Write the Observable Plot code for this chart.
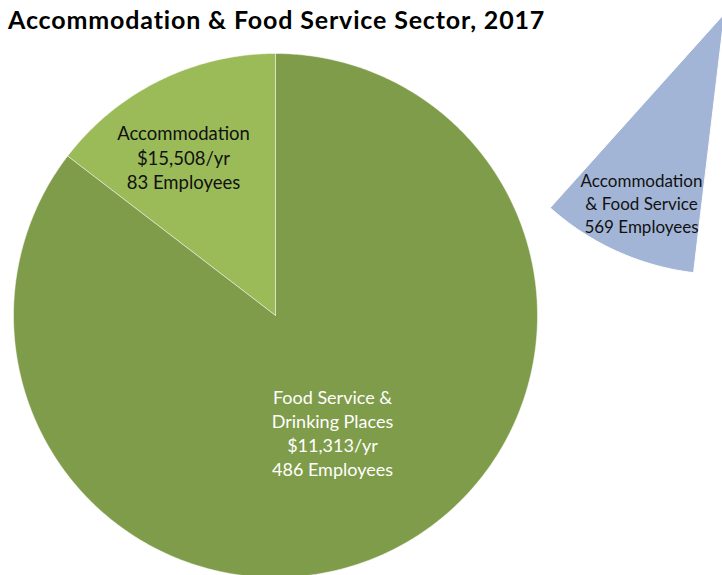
<!DOCTYPE html>
<html><head><meta charset="utf-8">
<script src="https://cdn.jsdelivr.net/npm/d3@7"></script>
<script src="https://cdn.jsdelivr.net/npm/@observablehq/plot@0.6"></script>
<style>
body{margin:0;background:#fff;}
#wrap{position:relative;width:722px;height:575px;overflow:hidden;}
#title{position:absolute;left:8px;top:4px;font-family:Lato;font-weight:bold;font-size:25px;letter-spacing:0.85px;color:#000;white-space:nowrap;z-index:2;}
#chart svg{display:block;}
</style></head><body>
<div id="wrap"><div id="title">Accommodation &amp; Food Service Sector, 2017</div><div id="chart"></div></div>
<script>
// ---- data ----
const categories = ["Accommodation", "Food Service & Drinking Places"];
const employees = [83, 486];
const wages = [15508, 11313];
const sectorName = "Accommodation & Food Service";
const sectorEmployees = 569;
const colors = ["#9BBB59", "#7F9C4A"];
const sectorColor = "#A3B5D6";

// ---- layout ----
const W = 722, H = 575;
const pie1 = {cx: 275, cy: 315, r: 262};
const wedge = {cx: 724, cy: 13, r: 261, a0: 186.8, a1: 221.9}; // degrees, clockwise from top
const deg = Math.PI / 180;

function arcPoints(cx, cy, r, a0, a1, key) {
  const pts = [{x: cx, y: cy, key}];
  const n = Math.max(8, Math.ceil(Math.abs(a1 - a0) / 0.01));
  for (let i = 0; i <= n; i++) {
    const a = a0 + (a1 - a0) * i / n;
    pts.push({x: cx + r * Math.sin(a), y: cy - r * Math.cos(a), key});
  }
  pts.push({x: cx, y: cy, key});
  return pts;
}

const arcs = d3.pie().sort(null).startAngle(0).endAngle(-2 * Math.PI)(employees);
const slices = arcs.map((a, i) => ({
  key: categories[i], color: colors[i],
  pts: arcPoints(pie1.cx, pie1.cy, pie1.r, a.startAngle, a.endAngle, categories[i])
}));
const wedgePts = arcPoints(wedge.cx, wedge.cy, wedge.r, wedge.a0 * deg, wedge.a1 * deg, sectorName);

const fmt = d3.format(",");
const labels = [
  {x: 183, y: 156, text: `${categories[0]}\n$${fmt(wages[0])}/yr\n${employees[0]} Employees`, fill: "#111", size: 18.5, lh: 1.35},
  {x: 332, y: 432, text: `Food Service &\nDrinking Places\n$${fmt(wages[1])}/yr\n${employees[1]} Employees`, fill: "#fff", size: 18, lh: 1.33},
  {x: 641, y: 202, text: `Accommodation\n& Food Service\n${sectorEmployees} Employees`, fill: "#111", size: 17, lh: 1.35}
];

const marks = [
  ...slices.map(s => Plot.line(s.pts, {x: "x", y: "y", fill: s.color, stroke: "#ffffff", strokeOpacity: 0.5, strokeWidth: 1})),
  Plot.line(wedgePts, {x: "x", y: "y", fill: sectorColor, stroke: "#ffffff", strokeWidth: 1}),
  ...labels.map(l => Plot.text([l], {x: "x", y: "y", text: "text", fill: l.fill, fontSize: l.size, lineHeight: l.lh, fontFamily: "Lato", textAnchor: "middle"}))
];

const chart = Plot.plot({
  width: W, height: H,
  margin: 0,
  x: {domain: [0, W], range: [0, W], axis: null},
  y: {domain: [0, H], range: [0, H], axis: null},
  style: {fontFamily: "Lato", background: "transparent"},
  marks
});
document.getElementById("chart").appendChild(chart);
</script>
</body></html>
